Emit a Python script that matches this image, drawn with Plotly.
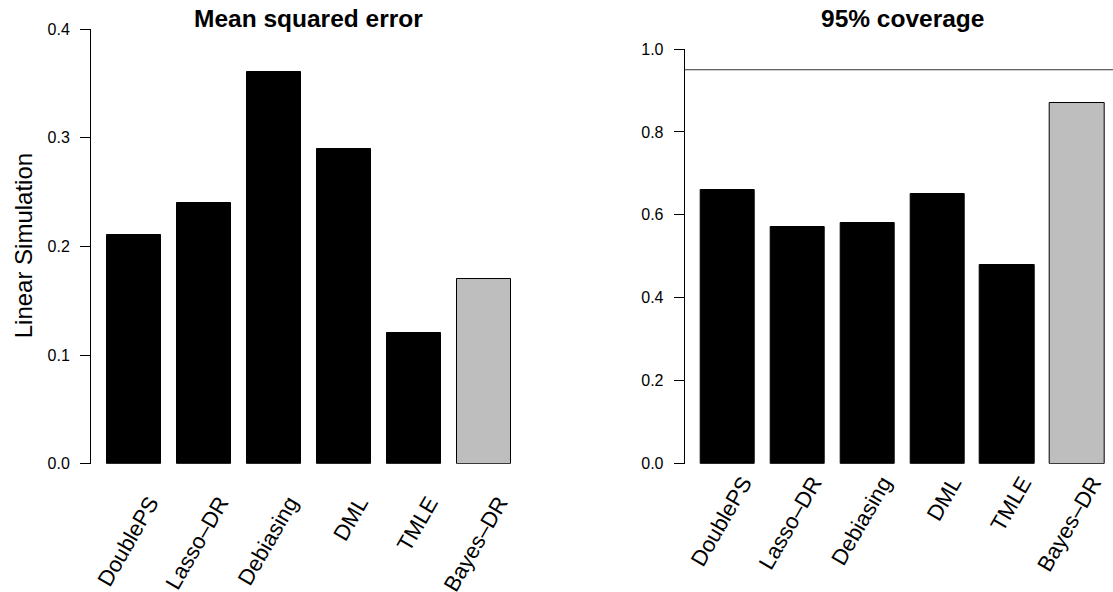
import plotly.graph_objects as go

methods = ["DoublePS", "Lasso\u2013DR", "Debiasing", "DML", "TMLE", "Bayes\u2013DR"]
mse = [0.21, 0.24, 0.36, 0.29, 0.12, 0.17]
coverage = [0.66, 0.57, 0.58, 0.65, 0.48, 0.87]
bar_colors = ["#000000", "#000000", "#000000", "#000000", "#000000", "#bebebe"]
mse_ticks = [0.0, 0.1, 0.2, 0.3, 0.4]
cov_ticks = [0.0, 0.2, 0.4, 0.6, 0.8, 1.0]
nominal = 0.95

W, H = 1113, 592
pos = list(range(1, len(methods) + 1))
label_pos = [p + 0.22 for p in pos]

FONT = "Liberation Sans, Arial, Helvetica, sans-serif"

fig = go.Figure()
fig.add_trace(go.Bar(x=pos, y=mse, width=0.775, marker=dict(color=bar_colors, line=dict(color="#000000", width=1)),
                     xaxis="x", yaxis="y", showlegend=False, hoverinfo="skip"))
fig.add_trace(go.Bar(x=pos, y=coverage, width=0.775, marker=dict(color=bar_colors, line=dict(color="#000000", width=1)),
                     xaxis="x2", yaxis="y2", showlegend=False, hoverinfo="skip"))

def px_x(p):
    return p / W

def px_y(p):
    return (H - p) / H

xcommon = dict(showgrid=False, zeroline=False, showline=False, ticks="", automargin=False,
               tickmode="array", tickvals=label_pos, ticktext=methods, tickangle=-60,
               ticklabeloverflow="allow",
               tickfont=dict(family=FONT, size=22, color="#000000"), fixedrange=True)
ycommon = dict(showgrid=False, zeroline=False, showline=True, linecolor="#000000", linewidth=1,
               ticks="outside", ticklen=10, tickwidth=1, tickcolor="#000000", tickformat=".1f",
               automargin=False,
               tickfont=dict(family=FONT, size=16, color="#000000"), ticklabelstandoff=7, fixedrange=True)

fig.update_layout(
    width=W, height=H,
    margin=dict(l=0, r=0, t=0, b=0, autoexpand=False),
    paper_bgcolor="white", plot_bgcolor="white",
    bargap=0,
    xaxis=dict(domain=[px_x(91), px_x(527)], range=[0.3794, 6.621], anchor="y",
               ticklabelstandoff=21, **xcommon),
    yaxis=dict(domain=[px_y(463.7), px_y(29)], range=[0, 0.4], tickvals=mse_ticks, anchor="x", **ycommon),
    xaxis2=dict(domain=[px_x(684.7), 1.0], range=[0.3855, 6.513], anchor="y2",
                ticklabelstandoff=1, **xcommon),
    yaxis2=dict(domain=[px_y(463.7), px_y(49)], range=[0, 1.0], tickvals=cov_ticks, anchor="x2", **ycommon),
    shapes=[dict(type="line", xref="x2 domain", yref="y2", x0=0, x1=1, y0=nominal, y1=nominal,
                 line=dict(color="#333333", width=1.2))],
    annotations=[
        dict(text="<b>Mean squared error</b>", xref="paper", yref="paper", x=px_x(308.5), y=px_y(34),
             xanchor="center", yanchor="bottom", showarrow=False,
             font=dict(family=FONT, size=24.5, color="#000000")),
        dict(text="<b>95% coverage</b>", xref="paper", yref="paper", x=px_x(902), y=px_y(34),
             xanchor="center", yanchor="bottom", showarrow=False,
             font=dict(family=FONT, size=24.5, color="#000000")),
        dict(text="Linear Simulation", xref="paper", yref="paper", x=px_x(23.3), y=px_y(246),
             xanchor="center", yanchor="middle", textangle=-90, showarrow=False,
             font=dict(family=FONT, size=24, color="#000000")),
    ],
)

fig.write_html("out.html")
